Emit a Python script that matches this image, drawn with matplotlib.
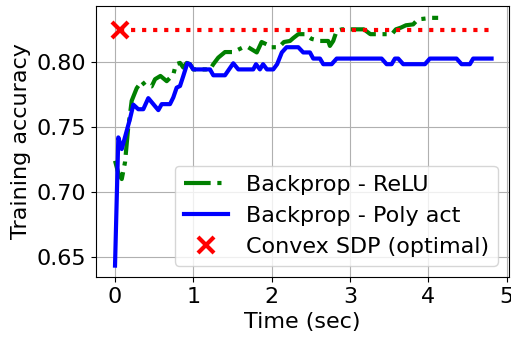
import matplotlib
matplotlib.use("Agg")
import matplotlib.pyplot as plt

# Backprop with ReLU activations: time (s) vs. training accuracy
relu_t = [0.0, 0.042, 0.086, 0.128, 0.166, 0.213, 0.277, 0.341, 0.383, 0.468,
          0.511, 0.58, 0.66, 0.744, 0.778, 0.83, 0.872, 0.915, 0.957, 0.999,
          1.213, 1.255, 1.318, 1.404, 1.51, 1.638, 1.70, 1.81, 1.872, 1.936,
          1.966, 2.093, 2.157, 2.234, 2.276, 2.34, 2.425, 2.51, 2.617, 2.722,
          2.744, 2.786, 2.83, 2.897, 3.178, 3.26, 3.535, 3.586, 3.65, 3.714,
          3.807, 3.867, 4.042, 4.126]
relu_acc = [0.724, 0.7146, 0.710, 0.723, 0.748, 0.770, 0.7796, 0.785, 0.782, 0.781,
            0.7865, 0.789, 0.785, 0.790, 0.798, 0.799, 0.7954, 0.799, 0.798, 0.794,
            0.794, 0.798, 0.803, 0.8073, 0.8073, 0.811, 0.811, 0.807, 0.815, 0.8132,
            0.811, 0.811, 0.815, 0.8158, 0.818, 0.821, 0.821, 0.8174, 0.8158, 0.8158,
            0.812, 0.8158, 0.8235, 0.8247, 0.8247, 0.821, 0.821, 0.8247, 0.826, 0.8278,
            0.8285, 0.8323, 0.8335, 0.8335]

# Backprop with polynomial activation
poly_t = [0.0, 0.042, 0.086, 0.19, 0.234, 0.297, 0.361, 0.425, 0.489, 0.553,
          0.596, 0.702, 0.744, 0.787, 0.83, 0.872, 0.923, 0.957, 0.999, 1.213,
          1.255, 1.404, 1.51, 1.574, 1.765, 1.80, 1.85, 1.89, 1.94, 2.02,
          2.07, 2.13, 2.19, 2.34, 2.403, 2.489, 2.531, 2.617, 2.659, 2.766,
          2.83, 3.404, 3.468, 3.532, 3.574, 3.616, 3.68, 3.957, 4.02, 4.361,
          4.425, 4.531, 4.573, 4.808]
poly_acc = [0.6437, 0.7419, 0.733, 0.7559, 0.767, 0.7635, 0.7635, 0.772, 0.7674, 0.7628,
            0.7674, 0.7674, 0.7725, 0.780, 0.7813, 0.789, 0.7987, 0.798, 0.794, 0.794,
            0.7895, 0.7895, 0.7987, 0.794, 0.794, 0.798, 0.794, 0.798, 0.794, 0.794,
            0.798, 0.807, 0.811, 0.811, 0.807, 0.807, 0.8023, 0.8023, 0.798, 0.798,
            0.8023, 0.8023, 0.798, 0.798, 0.8023, 0.8023, 0.798, 0.798, 0.8023, 0.8023,
            0.798, 0.798, 0.8023, 0.8023]

# Convex SDP solution: solve time and optimal accuracy
sdp_t = [0.065, 4.8]
sdp_acc = [0.8242, 0.8242]

plt.rcParams["font.size"] = 16

fig = plt.figure(figsize=(5.11, 3.39), dpi=100)
ax = fig.add_subplot(111)
fig.subplots_adjust(left=0.188, right=0.996, bottom=0.183, top=0.982)

ax.plot(relu_t, relu_acc, "-.", color="green", linewidth=3, label="Backprop - ReLU")
ax.plot(poly_t, poly_acc, "-", color="blue", linewidth=3, label="Backprop - Poly act")
ax.plot(sdp_t, sdp_acc, ":", color="red", linewidth=3)
ax.plot(sdp_t[0], sdp_acc[0], "x", color="red", markersize=11, markeredgewidth=3,
        linestyle="none", label="Convex SDP (optimal)")

ax.set_xlim(-0.242, 5.03)
ax.set_ylim(0.635, 0.8425)
ax.set_xticks([0, 1, 2, 3, 4, 5])
ax.set_yticks([0.65, 0.70, 0.75, 0.80])
ax.set_xlabel("Time (sec)")
ax.set_ylabel("Training accuracy")
ax.grid(True)
ax.legend(loc="lower right")

fig.savefig("out.png", dpi=100)
